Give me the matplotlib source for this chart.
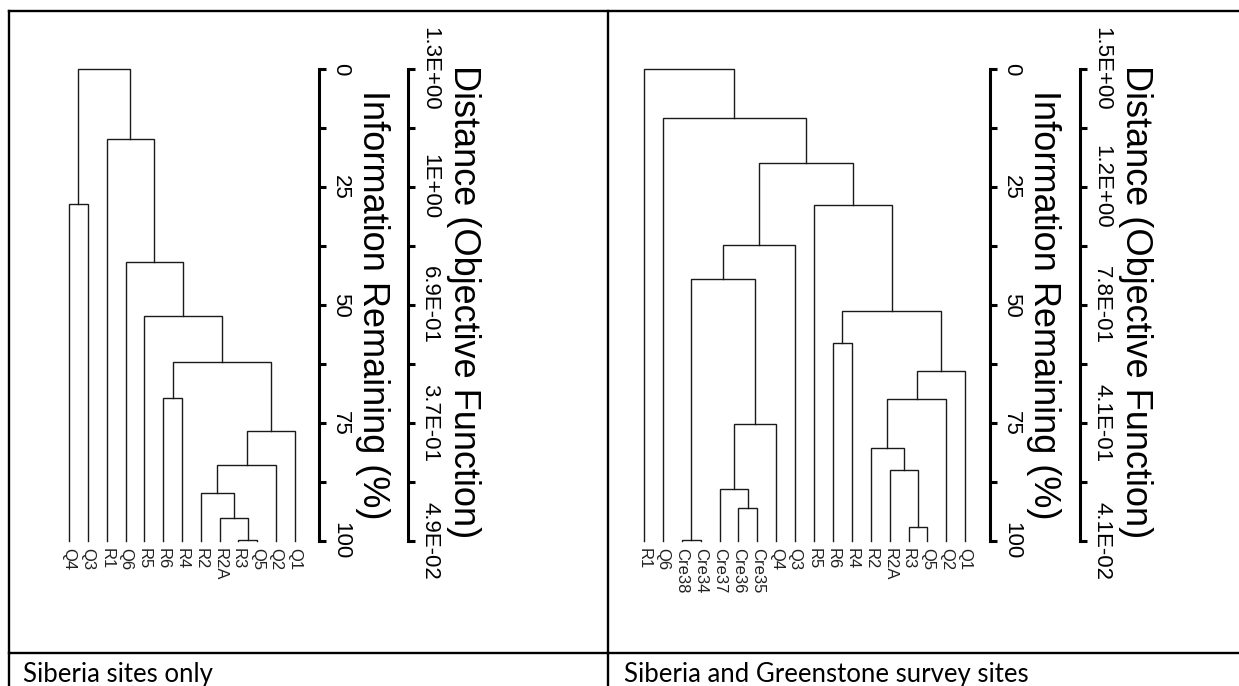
import matplotlib
matplotlib.use("Agg")
import matplotlib.pyplot as plt
from matplotlib.lines import Line2D

# Siberia sites only
left_leaves = ["Q4", "Q3", "R1", "Q6", "R5", "R6", "R4", "R2", "R2A", "R3", "Q5", "Q2", "Q1"]
# merges: "#k" refers to the k-th merge (1-based); height = information remaining (%)
left_join_a = ["R3", "R2A", "R2", "#3", "#4", "R6", "#6", "R5", "Q6", "Q4", "R1", "#10"]
left_join_b = ["Q5", "#1", "#2", "Q2", "Q1", "R4", "#5", "#7", "#8", "Q3", "#9", "#11"]
left_heights = [99.8, 95.1, 89.8, 83.8, 76.8, 69.8, 62.1, 52.4, 40.8, 28.5, 14.9, 0.0]
left_dist_labels = ["1.3E+00", "1E+00", "6.9E-01", "3.7E-01", "4.9E-02"]

# Siberia and Greenstone survey sites
right_leaves = ["R1", "Q6", "Cre38", "Cre34", "Cre37", "Cre36", "Cre35", "Q4", "Q3",
                "R5", "R6", "R4", "R2", "R2A", "R3", "Q5", "Q2", "Q1"]
right_join_a = ["Cre38", "Cre36", "Cre37", "#3", "#1", "#5", "R3", "R2A", "R2",
                "#9", "#10", "R6", "#12", "R5", "#6", "Q6", "R1"]
right_join_b = ["Cre34", "Cre35", "#2", "Q4", "#4", "Q3", "Q5", "#7", "#8",
                "Q2", "Q1", "R4", "#11", "#13", "#14", "#15", "#16"]
right_heights = [99.8, 93.1, 88.9, 75.3, 44.4, 37.3, 97.0, 85.0, 80.4,
                 70.0, 64.0, 58.1, 51.2, 28.8, 19.9, 10.3, 0.0]
right_dist_labels = ["1.5E+00", "1.2E+00", "7.8E-01", "4.1E-01", "4.1E-02"]

info_ticks = [0, 25, 50, 75, 100]
info_labels = ["0", "25", "50", "75", "100"]
minor_ticks = [12.5, 37.5, 62.5, 87.5]

W, H = 1239, 686
FONT = "Liberation Sans"


def box(x0, y0, x1, y1):
    return [x0 / W, 1 - y1 / H, (x1 - x0) / W, (y1 - y0) / H]


def draw_tree(ax, leaves, join_a, join_b, heights):
    pos = {name: (i, 100.0) for i, name in enumerate(leaves)}
    for k, (a, b, h) in enumerate(zip(join_a, join_b, heights)):
        xa, ya = pos[a]
        xb, yb = pos[b]
        ax.plot([xa, xa, xb, xb], [ya, h, h, yb], color="#1a1a1a", lw=1.0,
                solid_joinstyle="miter", clip_on=False)
        pos["#%d" % (k + 1)] = ((xa + xb) / 2, h)
    ax.set_xlim(-0.5, len(leaves) - 0.5)
    ax.set_ylim(100, 0)
    for s in ax.spines.values():
        s.set_visible(False)
    ax.set_yticks([])
    ax.set_xticks(range(len(leaves)))
    ax.set_xticklabels(leaves, rotation=270, fontsize=12, family=FONT, color="#222222")
    ax.tick_params(axis="x", length=0, pad=5)


def draw_scale(rect, labels):
    ax = fig.add_axes(rect)
    ax.set_ylim(100, 0)
    ax.patch.set_visible(False)
    for name, s in ax.spines.items():
        s.set_visible(name == "right")
    ax.spines["right"].set_linewidth(2.2)
    ax.set_xticks([])
    ax.yaxis.tick_right()
    ax.set_yticks(info_ticks)
    ax.set_yticks(minor_ticks, minor=True)
    ax.set_yticklabels(labels, family=FONT, fontsize=16)
    ax.tick_params(axis="y", which="both", direction="out", length=5, width=2.2, pad=3)
    for lbl in ax.get_yticklabels():
        lbl.set_rotation(270)
        lbl.set_va("center")
        lbl.set_ha("left")
    return ax


fig = plt.figure(figsize=(W / 100, H / 100), dpi=100)

panels = [
    (left_leaves, left_join_a, left_join_b, left_heights, left_dist_labels,
     (59.6, 304.4), 319, 408, "Siberia sites only", 23),
    (right_leaves, right_join_a, right_join_b, right_heights, right_dist_labels,
     (634.5, 974.7), 990, 1080, "Siberia and Greenstone survey sites", 624),
]

for leaves, ja, jb, hs, dlabels, (tx0, tx1), info_x, dist_x, caption, cap_x in panels:
    ax = fig.add_axes(box(tx0, 69, tx1, 541))
    draw_tree(ax, leaves, ja, jb, hs)
    draw_scale(box(info_x - 10, 69, info_x, 541), info_labels)
    draw_scale(box(dist_x - 10, 69, dist_x, 541), dlabels)
    fig.text((info_x + 53) / W, 1 - 305 / H, "Information Remaining (%)", rotation=270,
             ha="center", va="center", family=FONT, fontsize=26)
    fig.text((dist_x + 55) / W, 1 - 302 / H, "Distance (Objective Function)", rotation=270,
             ha="center", va="center", family=FONT, fontsize=26)
    fig.text(cap_x / W, 1 - 682 / H, caption, ha="left", va="baseline",
             family="Lato", fontsize=18.5)

# table grid
lw = 1.7
for xs, ys in [([9, W], [11, 11]), ([9, 9], [11, H]), ([608, 608], [11, H]), ([9, W], [653, 653])]:
    fig.add_artist(Line2D([x / W for x in xs], [1 - y / H for y in ys], color="black",
                          lw=lw, transform=fig.transFigure))

fig.savefig("out.png", dpi=100)
